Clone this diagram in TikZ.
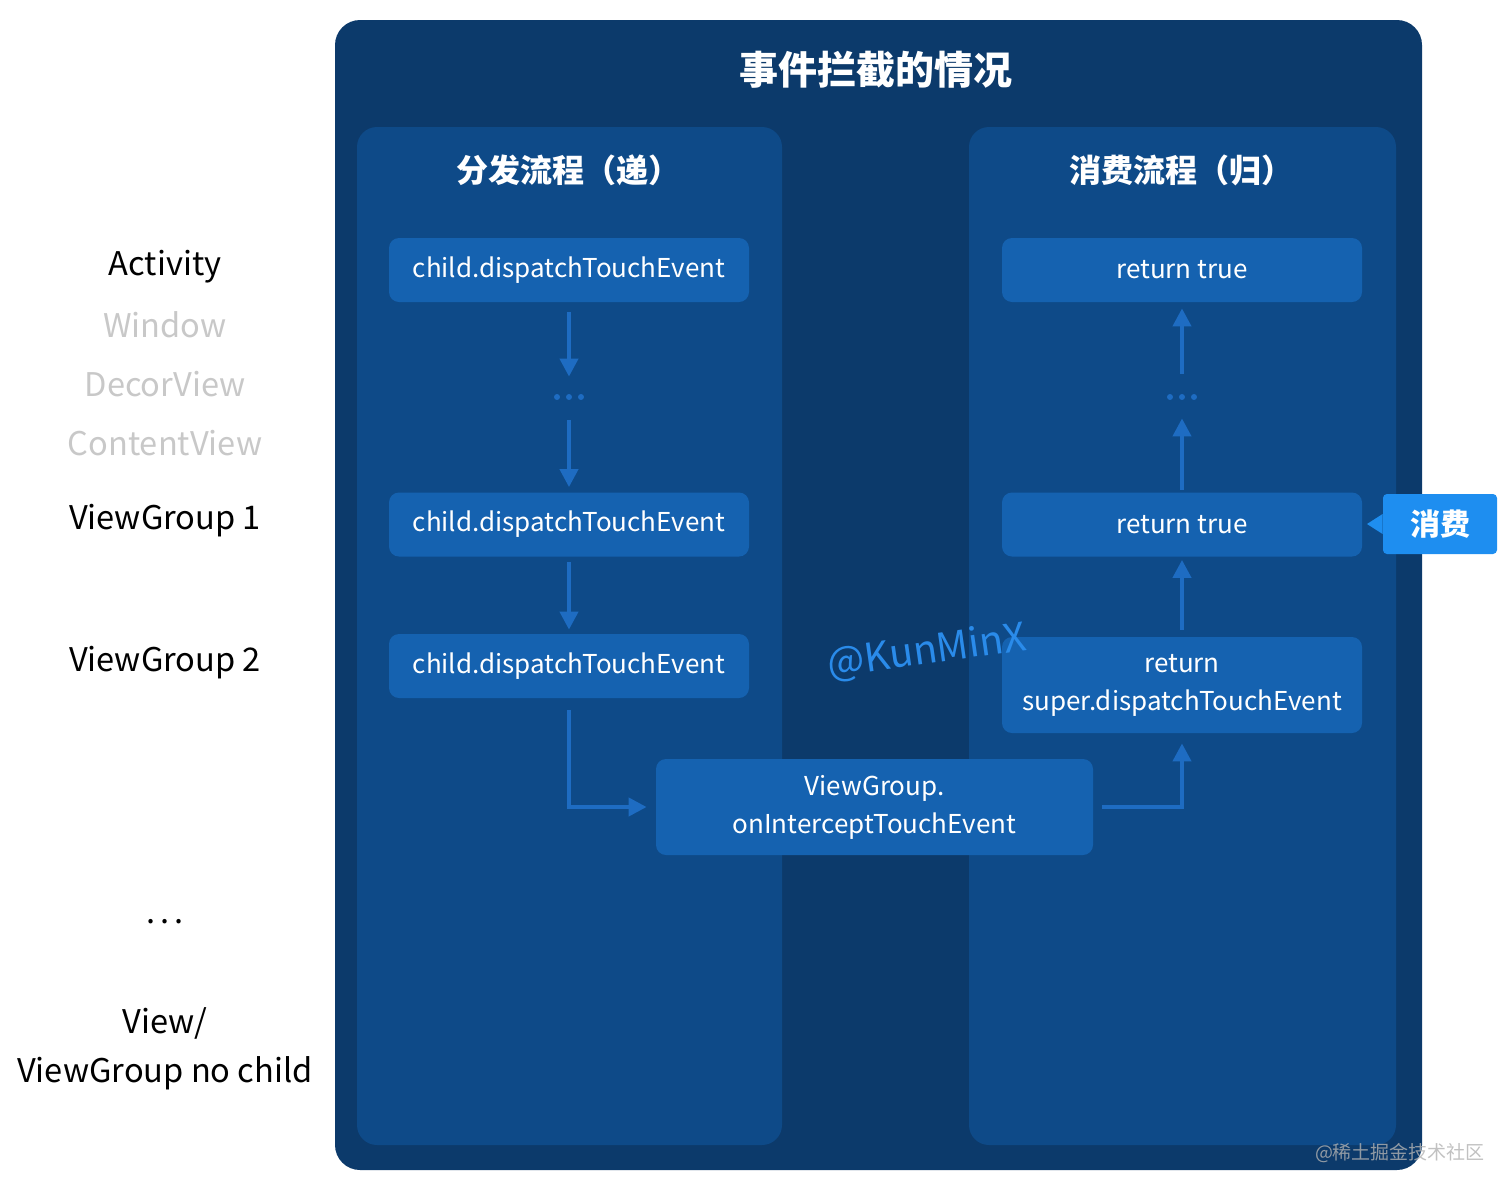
\documentclass[tikz,border=0pt]{standalone}
\usepackage{fontspec}
\setmainfont{Noto Sans CJK SC}
\usetikzlibrary{arrows.meta}
\definecolor{outerbg}{HTML}{0C3A6B}
\definecolor{colbg}{HTML}{0E4A88}
\definecolor{boxbg}{HTML}{1562B0}
\definecolor{arrowc}{HTML}{1E6CC2}
\definecolor{callout}{HTML}{1E8EF0}
\definecolor{wmark}{HTML}{2A8BEA}
\definecolor{lightlabel}{HTML}{C8C8C8}
\tikzset{
  panel/.style={fill=outerbg, rounded corners=12.5pt},
  column/.style={fill=colbg, rounded corners=10pt},
  flowbox/.style={fill=boxbg, rounded corners=5pt, text=white, minimum width=180pt, align=center, font=\fontsize{13}{19}\selectfont},
  dotsnode/.style={minimum width=20pt, minimum height=20pt, inner sep=0pt},
  arr/.style={draw=arrowc, line width=2pt, -{Triangle[length=9pt,width=9pt]}},
  coltitle/.style={text=white, font=\fontsize{16}{19}\selectfont\bfseries},
  sidelabel/.style={font=\fontsize{16.3}{24.5}\selectfont, align=center},
}
\newcommand{\lowtxt}[1]{\raisebox{-2.5pt}{#1}}
\begin{document}
\begin{tikzpicture}[x=0.5pt,y=-0.5pt]
\useasboundingbox (0,0) rectangle (1512,1195);
% panels
\fill[panel] (335,20) rectangle (1422,1170);
\fill[column] (357,127) rectangle (782,1145);
\fill[column] (969,127) rectangle (1396,1145);
\node[text=white, font=\fontsize{19.5}{24}\selectfont\bfseries] (title) at (876,70) {事件拦截的情况};
\node[coltitle] (ltitle) at (568,170) {分发流程（递）};
\node[coltitle] (rtitle) at (1181,170) {消费流程（归）};
% left boxes
\node[flowbox, minimum height=32pt] (L1) at (569,270) {\lowtxt{child.dispatchTouchEvent}};
\node[dotsnode] (Ld) at (569,397) {};
\node[flowbox, minimum height=32pt] (L2) at (569,524.5) {\lowtxt{child.dispatchTouchEvent}};
\node[flowbox, minimum height=32pt] (L3) at (569,666) {\lowtxt{child.dispatchTouchEvent}};
% right boxes
\node[flowbox, minimum height=32pt] (R1) at (1182,270) {\lowtxt{return true}};
\node[dotsnode] (Rd) at (1182,397) {};
\node[flowbox, minimum height=32pt] (R2) at (1182,524.5) {\lowtxt{return true}};
\node[flowbox, minimum height=48pt] (R3) at (1182,685) {\lowtxt{return}\\\lowtxt{super.dispatchTouchEvent}};
% middle box
\node[flowbox, minimum width=218.5pt, minimum height=48pt] (M) at (874.5,807) {\lowtxt{ViewGroup.}\\\lowtxt{onInterceptTouchEvent}};
% dots
\foreach \cx in {557,569,581} \fill[arrowc] (\cx,397) circle (1.5pt);
\foreach \cx in {1170,1182,1194} \fill[arrowc] (\cx,397) circle (1.5pt);
% arrows left
\draw[arr, shorten <=5pt] (L1.south) -- (Ld.north);
\draw[arr, shorten <=1.5pt, shorten >=2.5pt] (Ld.south) -- (L2.north);
\draw[arr, shorten <=2.5pt, shorten >=2pt] (L2.south) -- (L3.north);
\draw[arr, shorten <=6pt, shorten >=4.5pt] (L3.south) |- (M.west);
% arrows right
\draw[arr, shorten <=1.5pt, shorten >=3pt] (Rd.north) -- (R1.south);
\draw[arr, shorten <=1pt, shorten >=0.5pt] (R2.north) -- (Rd.south);
\draw[arr, shorten <=3.5pt, shorten >=1.5pt] (R3.north) -- (R2.south);
\draw[arr, shorten <=4.5pt, shorten >=5pt] (M.east) -| (R3.south);
% callout
\node[fill=callout, rounded corners=2pt, minimum width=57pt, minimum height=30pt, text=white, font=\fontsize{15}{18}\selectfont\bfseries] (C) at (1440,524) {消费};
\fill[callout] ([yshift=-5pt]C.west) -- (1367,524) -- ([yshift=5pt]C.west) -- cycle;
% watermark
\node[text=wmark, rotate=8, font=\fontsize{19.7}{24}\selectfont] (wm) at (927,652) {@KunMinX};
% side labels
\node[sidelabel] (sA) at (165,267) {Activity};
\node[sidelabel, text=lightlabel] (sW) at (165,325) {Window};
\node[sidelabel, text=lightlabel] (sD) at (165,384) {DecorView};
\node[sidelabel, text=lightlabel] (sC) at (165,443) {ContentView};
\node[sidelabel] (sV1) at (165,521) {ViewGroup 1};
\node[sidelabel] (sV2) at (165,663) {ViewGroup 2};
\node[sidelabel] (sdots) at (165,922) {.\hspace{2.5pt}.\hspace{2.5pt}.};
\node[sidelabel] (sV) at (165,1049) {View/\\ViewGroup no child};
% site watermark
\node[text=gray!60, opacity=0.8, font=\fontsize{9.5}{12}\selectfont] (site) at (1400,1153) {@稀土掘金技术社区};
\end{tikzpicture}
\end{document}
